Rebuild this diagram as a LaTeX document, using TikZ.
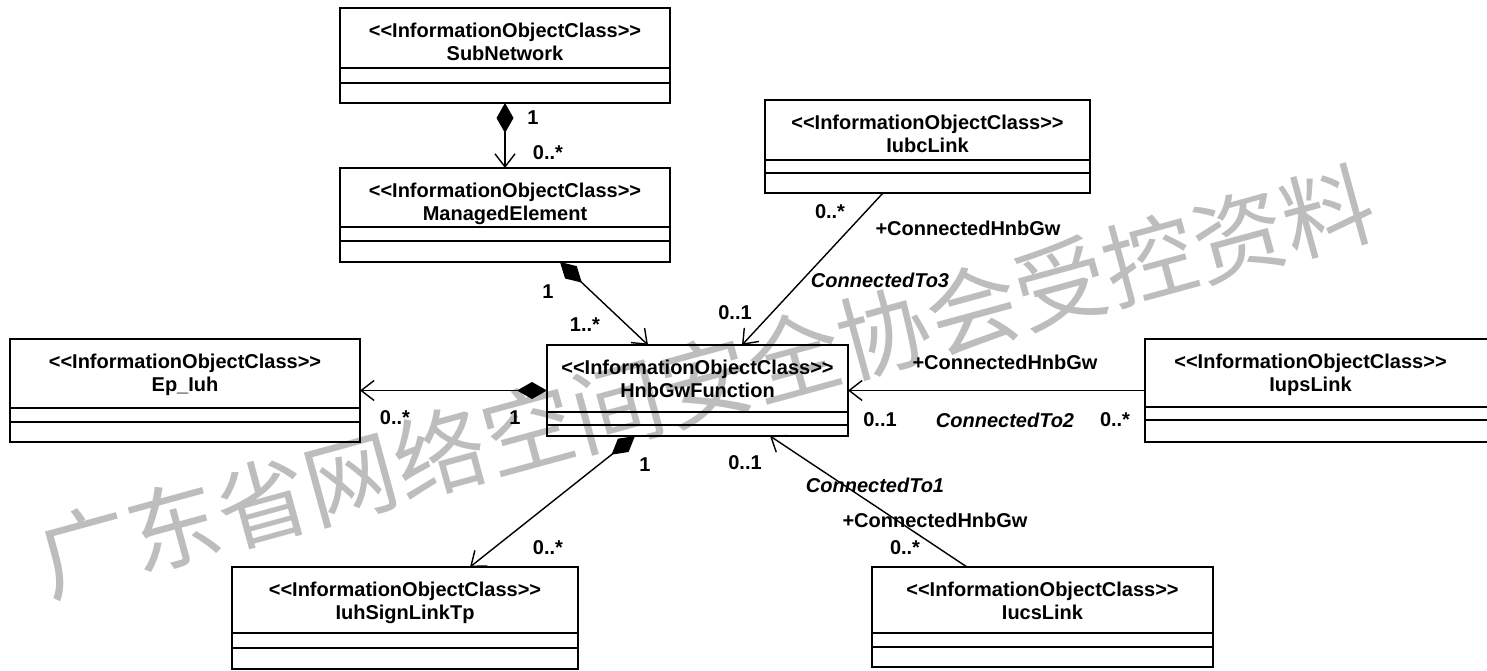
\documentclass[tikz,border=0pt]{standalone}
\usepackage{fontspec}
\setmainfont{Liberation Sans}[Ligatures=ResetAll]
\newfontfamily\cjkfont{Noto Sans CJK SC}
\usetikzlibrary{arrows.meta,calc}
\definecolor{markgray}{gray}{0.74}

\tikzset{
  x=1pt, y=-1pt,
  classframe/.style={draw, rectangle, line width=1.5pt, inner sep=0pt, outer sep=0pt, anchor=north west},
  compline/.style={line width=1.3pt},
  classtext/.style={font=\fontsize{20}{24}\selectfont\bfseries, inner sep=0pt, anchor=base},
  mult/.style={font=\fontsize{20}{24}\selectfont\bfseries, inner sep=0pt},
  rolename/.style={mult},
  assocname/.style={font=\fontsize{20}{24}\selectfont\bfseries\itshape, inner sep=0pt},
  navarrow/.style={line width=1.4pt, -{Straight Barb[length=13pt,width=20pt,line width=1.4pt]}},
  comparrow/.style={line width=1.4pt,
    {Diamond[length=30pt,width=17pt]}-{Straight Barb[length=13pt,width=20pt,line width=1.4pt]}},
}

% stereotype brackets written as plain angle characters
\newcommand\stereo[1]{<\kern0pt<#1>\kern0pt>}

% #1 name, #2 x, #3 y (top left), #4 width, #5 height,
% #6 #7 offsets of the compartment rules, #8 class name, #9 text x shift
\newcommand\umlclass[9]{%
  \node[classframe, minimum width=#4pt, minimum height=#5pt] (#1) at (#2,#3) {};
  \draw[compline] ([yshift=-#6pt]#1.north west) -- ([yshift=-#6pt]#1.north east);
  \draw[compline] ([yshift=-#7pt]#1.north west) -- ([yshift=-#7pt]#1.north east);
  \node[classtext] (#1-st) at ([xshift=#9pt,yshift=-29pt]#1.north)
    {\stereo{InformationObjectClass}};
  \node[classtext] (#1-nm) at ([xshift=#9pt,yshift=-52pt]#1.north) {#8};
}

\begin{document}
\begin{tikzpicture}
\useasboundingbox (0,0) rectangle (1487,670);
\clip (0,0) rectangle (1487,670);

% watermark
\node[font=\cjkfont\fontsize{92}{92}\selectfont, text=markgray, rotate=15.3, inner sep=0pt]
  (mark) at (706,381) {广东省网络空间安全协会受控资料};

% classes
\umlclass{sub}{340}{8}{330}{95}{60}{75}{SubNetwork}{0}
\umlclass{me}{340}{168}{330}{94}{59}{73}{ManagedElement}{0}
\umlclass{iubc}{765}{100}{325}{93}{60}{73}{IubcLink}{0}
\umlclass{hnb}{547}{345}{301}{91}{67}{80}{HnbGwFunction}{0}
\umlclass{ep}{10}{339}{350}{103}{69}{83}{Ep\_Iuh}{0}
\umlclass{iups}{1145}{339}{355}{103}{68}{81}{IupsLink}{-12}
\umlclass{iuhs}{232}{567}{346}{102}{66}{81}{IuhSignLinkTp}{0}
\umlclass{iucs}{872}{567}{341}{100}{66}{80}{IucsLink}{0}

% associations
\draw[comparrow] (sub.south) -- (me.north);
\draw[comparrow] ($(me.south west)+(220,0)$) -- ($(hnb.north west)+(101,0)$);
\draw[navarrow] ($(iubc.south west)+(118,0)$) -- ($(hnb.north west)+(195,0)$);
\draw[comparrow] (hnb.west) -- (hnb.west -| ep.east);
\draw[navarrow] (hnb.east -| iups.west) -- (hnb.east);
\draw[comparrow] ($(hnb.south west)+(88,0)$) -- ($(iuhs.north west)+(238,0)$);
\draw[navarrow] ($(iucs.north west)+(95,0)$) -- ($(hnb.south west)+(223,0)$);

% multiplicities, role and association names
\node[mult] (m1) at (533,118) {1};
\node[mult] (m2) at (548,153) {0..*};
\node[mult] (m3) at (830,212) {0..*};
\node[rolename] (r3) at (968,228) {+ConnectedHnbGw};
\node[assocname] (a3) at (880,280) {ConnectedTo3};
\node[mult] (m4) at (548,292) {1};
\node[mult] (m5) at (585,325) {1..*};
\node[mult] (m6) at (735,313) {0..1};
\node[rolename] (r2) at (1005,362) {+ConnectedHnbGw};
\node[mult] (m7) at (395,418) {0..*};
\node[mult] (m8) at (515,418) {1};
\node[mult] (m9) at (880,420) {0..1};
\node[assocname] (a2) at (1005,420) {ConnectedTo2};
\node[mult] (m10) at (1115,420) {0..*};
\node[mult] (m11) at (645,465) {1};
\node[mult] (m12) at (745,463) {0..1};
\node[assocname] (a1) at (875,485) {ConnectedTo1};
\node[rolename] (r1) at (935,520) {+ConnectedHnbGw};
\node[mult] (m13) at (548,548) {0..*};
\node[mult] (m14) at (905,548) {0..*};
\end{tikzpicture}
\end{document}
